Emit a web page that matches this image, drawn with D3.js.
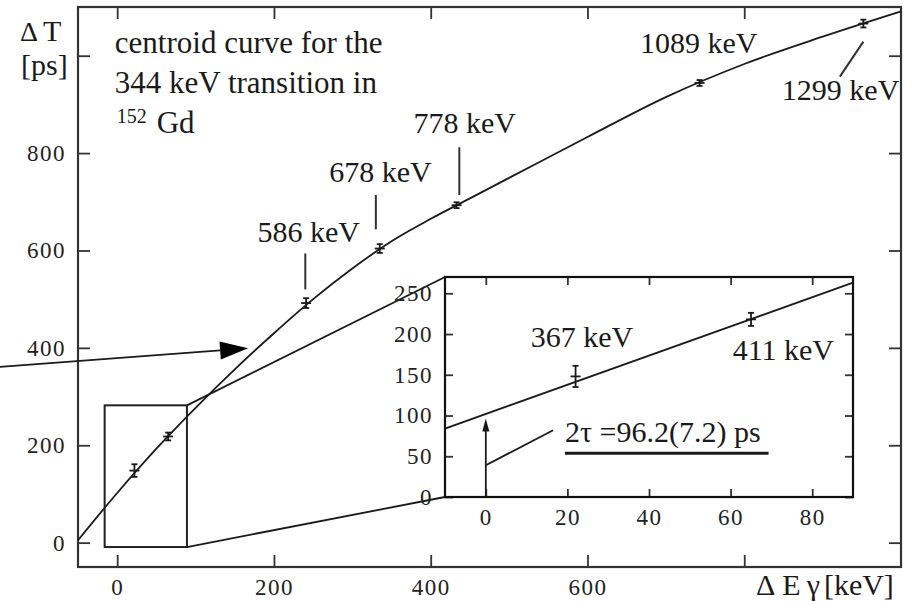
<!DOCTYPE html>
<html>
<head>
<meta charset="utf-8">
<script src="https://cdn.jsdelivr.net/npm/d3@7"></script>
<style>
  body { margin: 0; background: #fff; }
  svg { display: block; }
  svg text { font-family: "Liberation Serif", "Times New Roman", Tinos, "DejaVu Serif", "Noto Serif", serif; }
</style>
</head>
<body>
<svg id="chart" width="915" height="601"></svg>
<script>
// Centroid curve samples: energy difference ΔEγ [keV] vs time difference ΔT [ps]
const curveE = [-50, 0, 50, 100, 150, 200, 250, 300, 350, 400, 450, 500, 600, 700, 800, 900, 1000];
const curveT = [5, 102, 193, 277, 356, 430, 500, 563, 619, 665, 707, 749, 833, 915, 983, 1039, 1091];

// Measured centroid differences for the feeding transitions
const pointLabels = ["367 keV", "411 keV", "586 keV", "678 keV", "778 keV", "1089 keV", "1299 keV"];
const pointE = [22, 65, 241, 335, 433, 743, 952];
const pointT = [148, 218, 492, 604, 693, 944, 1066];
const pointErr = [13, 8, 10, 9, 6, 6, 8];

// Linear part of the curve shown in the enlarged window
const fitE = [-10, 90];
const fitT = [84, 263];
const twoTau = 96.2;
const twoTauErr = 7.2;

// Region of the main plot that is enlarged
const zoomE = [-16, 89];
const zoomT = [-9, 282];

// Tick values and labels
const mainXTicks = [0, 200, 400, 600, 800];
const mainXTickLabels = ["0", "200", "400", "600", ""];
const mainYTicks = [0, 200, 400, 600, 800, 1000];
const mainYTickLabels = ["0", "200", "400", "600", "800", ""];
const insetXTicks = [0, 20, 40, 60, 80];
const insetYTicks = [0, 50, 100, 150, 200, 250];

const INK = "#1a1a1a";
const svg = d3.select("#chart");

// ---------- main plot ----------
const L = 78, R = 901, T = 7, B = 567;
const x = d3.scaleLinear([-50, 1000], [L, R]);
const y = d3.scaleLinear([-50, 1100], [B, T]);

function styleAxis(g, fs) {
  g.select(".domain").remove();
  g.selectAll(".tick line").attr("stroke", "#333").attr("stroke-width", 1.8);
  g.selectAll(".tick text")
    .attr("font-size", fs)
    .attr("letter-spacing", "1.5px")
    .attr("fill", "#222");
}

svg.append("g").attr("transform", `translate(0,${B})`)
  .call(d3.axisBottom(x).tickValues(mainXTicks).tickSize(-12).tickPadding(12)
    .tickFormat((d, i) => mainXTickLabels[i]))
  .call(g => styleAxis(g, 23));
svg.append("g").attr("transform", `translate(0,${T})`)
  .call(d3.axisTop(x).tickValues(mainXTicks).tickSize(-12).tickFormat(""))
  .call(g => styleAxis(g, 23));
svg.append("g").attr("transform", `translate(${L},0)`)
  .call(d3.axisLeft(y).tickValues(mainYTicks).tickSize(-12).tickPadding(12)
    .tickFormat((d, i) => mainYTickLabels[i]))
  .call(g => styleAxis(g, 23));
svg.append("g").attr("transform", `translate(${R},0)`)
  .call(d3.axisRight(y).tickValues(mainYTicks).tickSize(-12).tickFormat(""))
  .call(g => styleAxis(g, 23));

svg.append("rect")
  .attr("x", L).attr("y", T).attr("width", R - L).attr("height", B - T)
  .attr("fill", "none").attr("stroke", "#333").attr("stroke-width", 2.2);

// centroid curve
const line = d3.line().x(d => x(d[0])).y(d => y(d[1])).curve(d3.curveMonotoneX);
svg.append("path")
  .datum(d3.zip(curveE, curveT))
  .attr("d", line)
  .attr("fill", "none").attr("stroke", INK).attr("stroke-width", 1.8);

// data points with error bars
function drawPoints(g, xs, ys, idx) {
  idx.forEach(i => {
    const cx = xs(pointE[i]);
    const y0 = ys(pointT[i] - pointErr[i]), y1 = ys(pointT[i] + pointErr[i]);
    const cy = ys(pointT[i]);
    const p = g.append("g").attr("stroke", INK).attr("stroke-width", 1.8);
    p.append("line").attr("x1", cx).attr("x2", cx).attr("y1", y0).attr("y2", y1);
    p.append("line").attr("x1", cx - 3).attr("x2", cx + 3).attr("y1", y0).attr("y2", y0);
    p.append("line").attr("x1", cx - 3).attr("x2", cx + 3).attr("y1", y1).attr("y2", y1);
    p.append("line").attr("x1", cx - 5).attr("x2", cx + 5).attr("y1", cy).attr("y2", cy);
  });
}
drawPoints(svg, x, y, d3.range(pointE.length));

// enlarged region outline
svg.append("rect")
  .attr("x", x(zoomE[0])).attr("y", y(zoomT[1]))
  .attr("width", x(zoomE[1]) - x(zoomE[0])).attr("height", y(zoomT[0]) - y(zoomT[1]))
  .attr("fill", "none").attr("stroke", "#222").attr("stroke-width", 2);

// ---------- enlarged window ----------
const iL = 445, iR = 853, iT = 277, iB = 497;
const xi = d3.scaleLinear([-10, 90], [iL, iR]);
const yi = d3.scaleLinear([0, 270], [iB, iT]);

// connector lines from the outline to the window
const conn = svg.append("g").attr("stroke", INK).attr("stroke-width", 1.8);
conn.append("line")
  .attr("x1", x(zoomE[1])).attr("y1", y(zoomT[1]))
  .attr("x2", xi(-10)).attr("y2", yi(270));
conn.append("line")
  .attr("x1", x(zoomE[1])).attr("y1", y(zoomT[0]))
  .attr("x2", xi(-10)).attr("y2", yi(0));

const inset = svg.append("g");
inset.append("rect")
  .attr("x", iL).attr("y", iT).attr("width", iR - iL).attr("height", iB - iT)
  .attr("fill", "#fff");

inset.append("g").attr("transform", `translate(0,${iB})`)
  .call(d3.axisBottom(xi).tickValues(insetXTicks).tickSize(-8).tickPadding(12))
  .call(g => styleAxis(g, 23));
inset.append("g").attr("transform", `translate(0,${iT})`)
  .call(d3.axisTop(xi).tickValues(insetXTicks).tickSize(-8).tickFormat(""))
  .call(g => styleAxis(g, 23));
inset.append("g").attr("transform", `translate(${iL},0)`)
  .call(d3.axisLeft(yi).tickValues(insetYTicks).tickSize(-8).tickPadding(12))
  .call(g => styleAxis(g, 23));
inset.append("g").attr("transform", `translate(${iR},0)`)
  .call(d3.axisRight(yi).tickValues(insetYTicks).tickSize(-8).tickFormat(""))
  .call(g => styleAxis(g, 23));

inset.append("rect")
  .attr("x", iL).attr("y", iT).attr("width", iR - iL).attr("height", iB - iT)
  .attr("fill", "none").attr("stroke", "#111").attr("stroke-width", 2.2);

const lineI = d3.line().x(d => xi(d[0])).y(d => yi(d[1]));
inset.append("path")
  .datum(d3.zip(fitE, fitT))
  .attr("d", lineI)
  .attr("fill", "none").attr("stroke", INK).attr("stroke-width", 1.8);

drawPoints(inset, xi, yi, [0, 1]);

// 2τ arrow at ΔEγ = 0
inset.append("line")
  .attr("x1", xi(0)).attr("x2", xi(0)).attr("y1", yi(0)).attr("y2", yi(twoTau) + 6)
  .attr("stroke", INK).attr("stroke-width", 1.8);
inset.append("path")
  .attr("d", `M${xi(0)},${yi(twoTau)} L${xi(0) - 3.5},${yi(twoTau) + 13} L${xi(0) + 3.5},${yi(twoTau) + 13} Z`)
  .attr("fill", INK);
inset.append("line")
  .attr("x1", xi(0)).attr("y1", yi(39)).attr("x2", xi(16.5)).attr("y2", yi(82))
  .attr("stroke", INK).attr("stroke-width", 1.8);
inset.append("text")
  .attr("x", xi(19.4)).attr("y", yi(67.9))
  .attr("font-size", 30).attr("fill", INK)
  .text(`2τ =${twoTau.toFixed(1)}(${twoTauErr.toFixed(1)}) ps`);
inset.append("line")
  .attr("x1", xi(19.4)).attr("x2", xi(69.3)).attr("y1", yi(53.6)).attr("y2", yi(53.6))
  .attr("stroke", INK).attr("stroke-width", 3);

// point labels inside the window
const labelText = (g, px, py, s, fs = 30) =>
  g.append("text").attr("x", px).attr("y", py)
    .attr("font-size", fs).attr("fill", INK).text(s);
labelText(inset, xi(11), yi(183.7), pointLabels[0]);
labelText(inset, xi(60.5), yi(168), pointLabels[1]);

// ---------- annotations in the main plot ----------
labelText(svg, x(179), y(618), pointLabels[2]);
labelText(svg, x(270.6), y(741), pointLabels[3]);
labelText(svg, x(378), y(841), pointLabels[4]);
labelText(svg, x(667), y(1005), pointLabels[5]);
labelText(svg, x(848), y(909), pointLabels[6]);

const leaders = svg.append("g").attr("stroke", "#333").attr("stroke-width", 2);
[[240, 594, 240, 520], [330, 714, 330, 643.5], [436.5, 812, 436.5, 714], [952, 1029, 922, 957]]
  .forEach(([e1, t1, e2, t2]) => {
    leaders.append("line")
      .attr("x1", x(e1)).attr("y1", y(t1)).attr("x2", x(e2)).attr("y2", y(t2));
  });

// big pointer arrow towards the curve
{
  const x1 = x(-150), y1 = y(361), x2 = x(167), y2 = y(399);
  const ang = Math.atan2(y2 - y1, x2 - x1);
  const len = 28, hw = 9;
  const bx = x2 - len * Math.cos(ang), by = y2 - len * Math.sin(ang);
  svg.append("line").attr("x1", x1).attr("y1", y1).attr("x2", bx).attr("y2", by)
    .attr("stroke", INK).attr("stroke-width", 1.8);
  svg.append("path")
    .attr("d", `M${x2},${y2} L${bx + hw * Math.sin(ang)},${by - hw * Math.cos(ang)} L${bx - hw * Math.sin(ang)},${by + hw * Math.cos(ang)} Z`)
    .attr("fill", "#000");
}

// description block
const desc = svg.append("g").attr("font-size", 31).attr("fill", INK);
desc.append("text").attr("x", x(-3)).attr("y", y(1005)).text("centroid curve for the");
desc.append("text").attr("x", x(-3)).attr("y", y(923)).text("344 keV transition in");
const iso = desc.append("text").attr("x", x(-0.6)).attr("y", y(841));
iso.append("tspan").attr("font-size", 20).attr("dy", -10).text("152");
iso.append("tspan").attr("dy", 10).attr("dx", 10).text("Gd");

// axis titles
const yt = svg.append("text").attr("x", 20).attr("y", 41)
  .attr("font-size", 28).attr("fill", INK);
yt.append("tspan").text("Δ");
yt.append("tspan").attr("dx", 5).attr("font-size", 30).text("T");
svg.append("text").attr("x", 21).attr("y", 75)
  .attr("font-size", 30).attr("fill", INK).text("[ps]");

const xt = svg.append("text").attr("x", 756).attr("y", 595)
  .attr("font-size", 30).attr("fill", INK);
xt.append("tspan").text("Δ");
xt.append("tspan").attr("dx", 7).text("E");
xt.append("tspan").attr("dx", 6).text("γ");
xt.append("tspan").attr("dx", 4).text("[keV]");
</script>
</body>
</html>
